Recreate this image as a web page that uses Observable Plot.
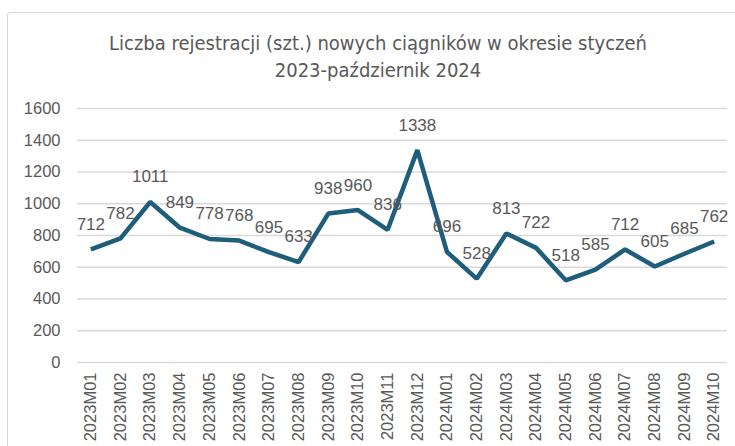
<!DOCTYPE html>
<html>
<head>
<meta charset="utf-8">
<script src="https://cdn.jsdelivr.net/npm/d3@7"></script>
<script src="https://cdn.jsdelivr.net/npm/@observablehq/plot@0.6"></script>
<style>
  html, body { margin: 0; padding: 0; background: #fff; }
  #wrap { position: relative; width: 735px; height: 446px; overflow: hidden; background: #fff; }
  #frame { position: absolute; left: 7px; top: 12px; width: 760px; height: 460px; border: 1.5px solid #d9d9d9; border-radius: 3px; box-sizing: border-box; }
  #title { position: absolute; left: 0; top: 30px; width: 756px; text-align: center; font-family: "Liberation Sans Narrow", "DejaVu Sans Condensed", "Liberation Sans", sans-serif; font-size: 20px; line-height: 27px; color: #595959; }
  #chart { position: absolute; left: 0; top: 90px; }
</style>
</head>
<body>
<div id="wrap">
  <div id="frame"></div>
  <div id="title">Liczba rejestracji (szt.) nowych ciągników w okresie styczeń<br>2023-październik 2024</div>
  <div id="chart"></div>
</div>
<script>
const months = ["2023M01","2023M02","2023M03","2023M04","2023M05","2023M06","2023M07","2023M08","2023M09","2023M10","2023M11","2023M12","2024M01","2024M02","2024M03","2024M04","2024M05","2024M06","2024M07","2024M08","2024M09","2024M10"];
const registrations = [712,782,1011,849,778,768,695,633,938,960,836,1338,696,528,813,722,518,585,712,605,685,762];
const yTicks = [0,200,400,600,800,1000,1200,1400,1600];

const data = months.map((m, i) => ({month: m, value: registrations[i]}));

const chart = Plot.plot({
  width: 735,
  height: 356,
  marginTop: 18,
  marginBottom: 84,
  marginLeft: 77,
  marginRight: 8,
  style: {fontFamily: "Liberation Sans, Arial, sans-serif", fontSize: "16.5px", color: "#595959", background: "transparent"},
  x: {type: "point", domain: months, padding: 0.45, round: false, label: null, tickSize: 0, tickPadding: 10, tickRotate: -90},
  y: {domain: [0, 1600], ticks: yTicks, tickFormat: d => String(d), label: null, tickSize: 0, tickPadding: 17},
  marks: [
    Plot.ruleY(yTicks, {stroke: "#d9d9d9", strokeWidth: 1.5, strokeOpacity: 1}),
    Plot.line(data, {x: "month", y: "value", stroke: "#1e5d7c", strokeWidth: 4.5, strokeLinejoin: "miter", strokeLinecap: "butt"}),
    Plot.text(data, {x: "month", y: "value", text: d => String(d.value), dy: -25, fill: "#595959", fontSize: 17})
  ]
});
document.getElementById("chart").appendChild(chart);
</script>
</body>
</html>
